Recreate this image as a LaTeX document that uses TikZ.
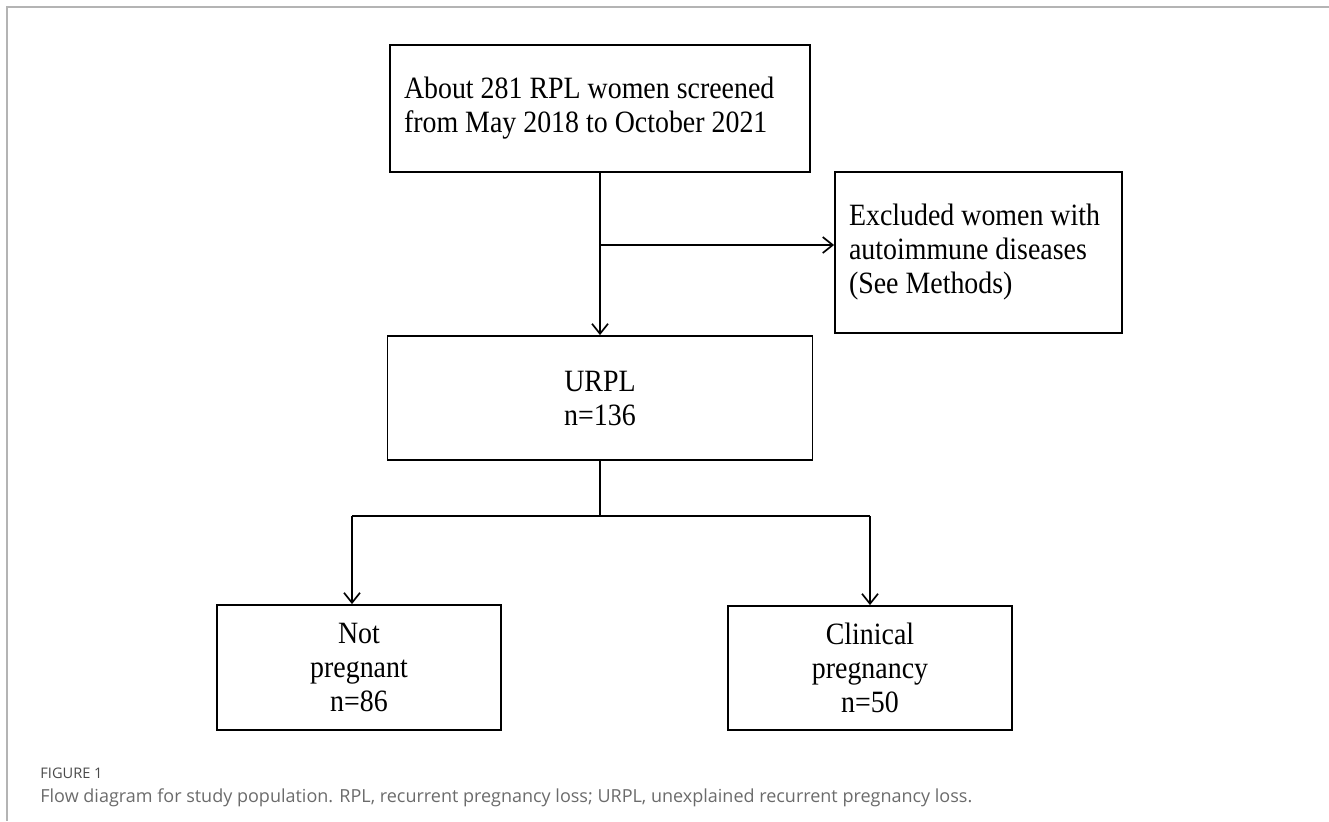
\documentclass[tikz,border=0pt]{standalone}
\usepackage{fontspec}
\setmainfont[FakeStretch = 0.9]{Liberation Serif}
\newfontfamily\capfont{Open Sans}
\usetikzlibrary{arrows.meta}
\definecolor{capgray}{HTML}{6B6B6B}
\definecolor{figgray}{HTML}{4A4A4A}
\definecolor{framegray}{HTML}{B4B4B4}

\begin{document}
\begin{tikzpicture}[x = 0.5pt, y = -0.5pt,
    box/.style = {draw, line width = 0.9pt, font = \fontsize{15.5}{17}\selectfont, inner sep = 0pt},
    arr/.style = {line width = 0.85pt, -{Straight Barb[length = 5pt, width = 8pt, line width = 0.85pt]}},
    line/.style = {line width = 0.85pt}]
    \useasboundingbox (0,0) rectangle (1329,821);
    \draw[framegray, line width = 1pt] (1329,7) -- (7,7) -- (7,821);
    \node[box, minimum width = 210pt, minimum height = 63.5pt, text width = 196pt, align = flush left] (screen) at (600,108.5) {About 281 RPL women screened\\from May 2018 to October 2021};
    \node[box, minimum width = 143.5pt, minimum height = 80.5pt, text width = 129.5pt, align = flush left] (excl) at (978.5,252.5) {Excluded women with\\autoimmune diseases\\(See Methods)};
    \node[box, minimum width = 212.5pt, minimum height = 62pt, align = center] (urpl) at (600,398) {URPL\\n=136};
    \node[box, minimum width = 142pt, minimum height = 62.5pt, align = center] (notp) at (359,667.5) {Not\\pregnant\\n=86};
    \node[box, minimum width = 142pt, minimum height = 62pt, align = center] (clin) at (870,668) {Clinical\\pregnancy\\n=50};
    \coordinate (split) at (600,245);
    \coordinate (fork) at (600,516);
    \coordinate (forkL) at (352,516);
    \coordinate (forkR) at (870,516);
    \draw[arr] (screen.south) -- (urpl.north);
    \draw[arr] (split) -- (split -| excl.west);
    \draw[line] (urpl.south) -- (fork);
    \draw[line] (forkL) -- (forkR);
    \draw[arr] (forkL) -- (forkL |- notp.north);
    \draw[arr] (forkR) -- (clin.north);
    \node[anchor = west, font = \capfont\fontsize{7.3}{9}\selectfont, text = figgray, inner sep = 0pt] (fig) at (40,773) {FIGURE 1};
    \node[anchor = west, font = \capfont\fontsize{9}{11}\selectfont, text = capgray, inner sep = 0pt] (cap) at (40,798) {Flow diagram for study population. RPL, recurrent pregnancy loss; URPL, unexplained recurrent pregnancy loss.};
\end{tikzpicture}
\end{document}
